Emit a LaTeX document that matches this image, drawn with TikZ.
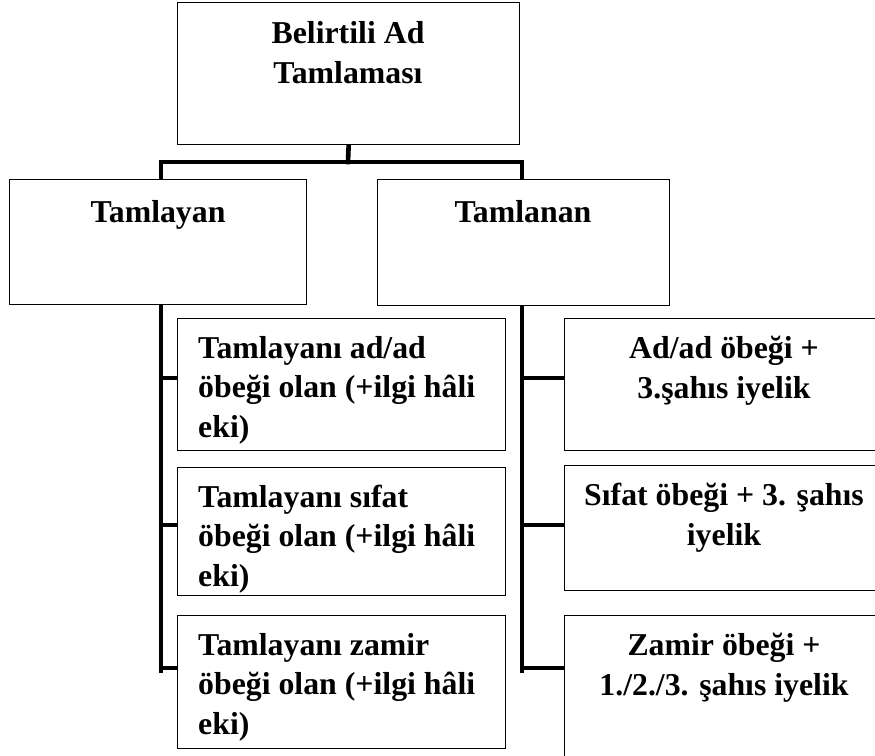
\documentclass[tikz,border=0pt]{standalone}
\usepackage{fontspec}
\setmainfont{Liberation Serif}
\usetikzlibrary{backgrounds}
\begin{document}
\begin{tikzpicture}[x=1pt,y=-1pt,
  box/.style={draw=black,fill=white,line width=1.3pt,rectangle,inner sep=0pt,anchor=north west},
  conn/.style={draw=black,line width=4.6pt,line join=miter,line cap=rect},
  stub/.style={draw=black,line width=4.6pt},
  lbl/.style={inner sep=0pt,font=\bfseries\fontsize{31.8}{39.5}\selectfont},
  lblL/.style={lbl,align=left,anchor=base west},
  lblC/.style={lbl,align=center,anchor=base}]
\useasboundingbox (0,0) rectangle (875,755);
% boxes
\node[box,minimum width=342pt,minimum height=142pt] (top) at (177,2) {};
\node[box,minimum width=297pt,minimum height=125pt] (tl) at (9,179) {};
\node[box,minimum width=292pt,minimum height=126pt] (tn) at (377,179) {};
\node[box,minimum width=328pt,minimum height=132pt] (l1) at (177,318) {};
\node[box,minimum width=328pt,minimum height=128pt] (l2) at (177,467) {};
\node[box,minimum width=328pt,minimum height=133pt] (l3) at (177,615) {};
\node[box,minimum width=320pt,minimum height=132pt] (r1) at (564,318) {};
\node[box,minimum width=320pt,minimum height=125pt] (r2) at (564,465) {};
\node[box,minimum width=320pt,minimum height=160pt] (r3) at (564,615) {};
% texts (anchor base = baseline of the last line)
\node[lblC] (ttop) at (348,83) {Belirtili Ad\\Tamlaması};
\node[lblC] (ttl) at (158,222) {Tamlayan};
\node[lblC] (ttn) at (523,222) {Tamlanan};
\node[lblL] (tl1) at (198,437) {Tamlayanı ad/ad\\öbeği olan (+ilgi hâli\\eki)};
\node[lblL] (tl2) at (198,586) {Tamlayanı sıfat\\öbeği olan (+ilgi hâli\\eki)};
\node[lblL] (tl3) at (198,734) {Tamlayanı zamir\\öbeği olan (+ilgi hâli\\eki)};
\node[lblC] (tr1) at (724,398) {Ad/ad öbeği +\\3.şahıs iyelik};
\node[lblC] (tr2) at (724,545) {Sıfat öbeği + 3. şahıs\\iyelik};
\node[lblC] (tr3) at (724,695) {Zamir öbeği +\\1./2./3. şahıs iyelik};
% connectors
\coordinate (bus) at (348,162);
\coordinate (busL) at (161,162);
\coordinate (busR) at (522,162);
\coordinate (endL) at (161,671);
\coordinate (endR) at (522,671);
\coordinate (jl1) at (161,378);
\coordinate (jl2) at (161,525);
\coordinate (jl3) at (161,668);
\coordinate (jr1) at (522,378);
\coordinate (jr2) at (522,525);
\coordinate (jr3) at (522,668);
\begin{pgfonlayer}{background}
\draw[conn] (top.south) -- (bus);
\draw[conn] (endL) -- (busL) -- (busR) -- (endR);
\draw[stub] (jl1) -- (l1.west |- jl1);
\draw[stub] (jl2) -- (l2.west |- jl2);
\draw[stub] (jl3) -- (l3.west |- jl3);
\draw[stub] (jr1) -- (r1.west |- jr1);
\draw[stub] (jr2) -- (r2.west |- jr2);
\draw[stub] (jr3) -- (r3.west |- jr3);
\end{pgfonlayer}
\end{tikzpicture}
\end{document}
